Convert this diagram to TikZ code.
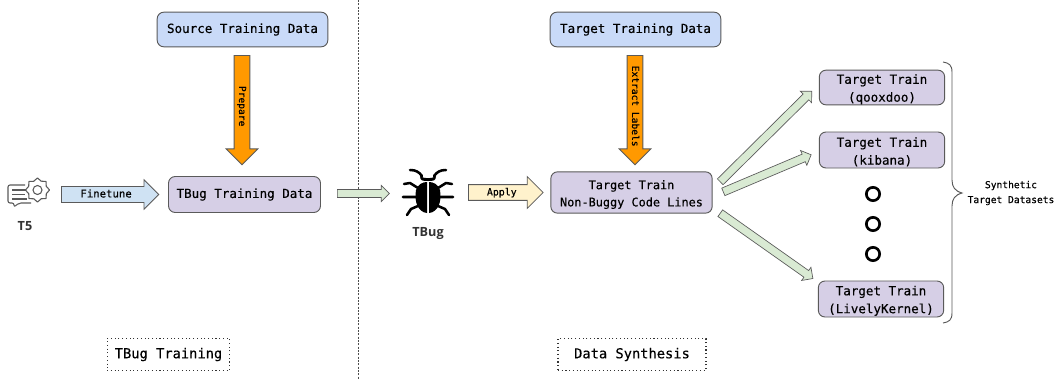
\documentclass[tikz,border=0pt]{standalone}
\usepackage{fontspec}
\setmainfont{DejaVu Sans Mono}[BoldFont={DejaVu Sans Mono},BoldFeatures={FakeBold=0.35}]
\newfontfamily\labfont{Open Sans}
\usetikzlibrary{shapes.arrows,calc}
\definecolor{lineg}{HTML}{5A5A5A}
\definecolor{purp}{HTML}{D6CFE6}
\definecolor{blu}{HTML}{C9DAF8}
\definecolor{org}{HTML}{FF9900}
\definecolor{grn}{HTML}{D9EAD3}
\definecolor{yel}{HTML}{FFF2CC}
\definecolor{lblu}{HTML}{CFE2F3}
\newcommand{\fs}[1]{\fontsize{#1}{#1}\selectfont}
\newcommand{\topst}{\rule{0pt}{9.8pt}}
\tikzset{
 x=0.75pt,y=-0.75pt,
 box/.style={draw=lineg,line width=0.7pt,rounded corners=5pt,inner sep=0pt,align=center,font=\fs{9.4}\bfseries,text=black},
 bluebox/.style={box,fill=blu},
 purpbox/.style={box,fill=purp},
 blockarrow/.style={single arrow,draw=lineg,line width=0.6pt,inner xsep=0pt,inner ysep=0pt,text=black,anchor=tail,single arrow tip angle=90,text height=7.8pt,text depth=3.4pt,font=\fs{7.4}\bfseries},
 orangearrow/.style={blockarrow,fill=org,minimum height=82pt,rotate=-90,single arrow head extend=6pt,minimum width=23.5pt},
 thinarrow/.style={blockarrow,fill=grn,line width=0.5pt,text height=5.6pt,text depth=0pt,single arrow head extend=3pt},
 tagbox/.style={draw=black!80,dotted,line width=0.8pt,inner sep=0pt,font=\fs{10.3}\bfseries,text=black},
 iconlabel/.style={font=\labfont\fs{9.5}\bfseries,text=black!80},
}
\begin{document}
\begin{tikzpicture}
\useasboundingbox (0,0) rectangle (1064,379);
\fill[white] (0,0) rectangle (1064,379);
% divider
\draw[black!70,line width=0.5pt,dash pattern=on 1.5pt off 1pt] (358,0) -- (358,379);
% boxes
\node[bluebox,minimum width=128pt,minimum height=26pt] (src) at (242.5,29.5) {Source Training Data};
\node[bluebox,minimum width=128pt,minimum height=26pt] (tgt) at (635.5,29.5) {Target Training Data};
\node[purpbox,minimum width=114pt,minimum height=27pt] (tbd) at (244.5,194.5) {TBug Training Data};
\node[purpbox,minimum width=121pt,minimum height=31pt,font=\fs{8.9}\bfseries] (ntb) at (631.5,192.5) {\topst Target Train\\[4pt]Non-Buggy Code Lines};
\node[purpbox,minimum width=94pt,minimum height=26pt] (qx) at (882,87.5) {\topst Target Train\\[4pt](qooxdoo)};
\node[purpbox,minimum width=94pt,minimum height=27pt] (kb) at (882,150) {\topst Target Train\\[4pt](kibana)};
\node[purpbox,minimum width=94pt,minimum height=27pt] (lk) at (881,299) {\topst Target Train\\[4pt](LivelyKernel)};
% tags
\node[tagbox,minimum width=92pt,minimum height=24pt] (tagA) at (168.5,354.5) {TBug Training};
\node[tagbox,minimum width=111pt,minimum height=24pt] (tagB) at (632,354.5) {Data Synthesis};
% block arrows
\node[orangearrow,font=\fs{7.2}\bfseries] (prep) at (242,55) {Prepare};
\node[orangearrow,font=\fs{7.2}\bfseries] (extr) at (635,55) {Extract Labels};
\node[blockarrow,fill=lblu,minimum height=73pt,minimum width=22pt,single arrow head extend=5pt,font=\fs{8}\bfseries] (fine) at (61,194.5) {Finetune};
\node[blockarrow,fill=yel,minimum height=56pt,minimum width=23pt,single arrow head extend=6pt] (appl) at (468,192.5) {Apply};
\node[thinarrow,minimum height=39pt] (g0) at (337,193.5) {};
\node[thinarrow,rotate=44.7,minimum height=96.5pt] (g1) at (720,182) {};
\node[thinarrow,rotate=22.9,minimum height=71.5pt] (g2) at (723,192) {};
\node[thinarrow,rotate=-35.2,minimum height=85pt] (g3) at (720,213) {};
% dots
\foreach \n/\yy in {d1/194,d2/224,d3/254}
  \node[circle,draw=black,line width=2pt,minimum size=10pt,inner sep=0pt] (\n) at (873,\yy) {};
% brace
\draw[lineg,line width=0.7pt] (943,62) .. controls (949,63) and (952,65) .. (952,72) -- (952,180) .. controls (952,187) and (955,191) .. (962,193) .. controls (955,195) and (952,199) .. (952,206) -- (952,313) .. controls (952,320) and (949,322) .. (943,323);
\node[align=center,font=\fs{7.2}\bfseries,text=black] (synth) at (1011,193) {Synthetic\\[4pt]Target Datasets};
% T5 icon
\begin{scope}[lineg,line width=0.8pt]
\draw[rounded corners=1.5pt] (25,185) -- (8,185) -- (8,203) -- (14,203) -- (14,207) -- (19,203) -- (31,203);
\draw (12,190) -- (26,190) (12,194.5) -- (25,194.5) (12,199) -- (27,199);
\path (37.5,190) coordinate (gc);
\draw (gc) circle (4.5);
\draw[line join=round] plot[smooth cycle,tension=0.3] coordinates {
 ($(gc)+(0:12)$) ($(gc)+(22:9.5)$) ($(gc)+(45:12)$) ($(gc)+(67:9.5)$) ($(gc)+(90:12)$) ($(gc)+(112:9.5)$) ($(gc)+(135:12)$) ($(gc)+(157:9.5)$) ($(gc)+(180:12)$) ($(gc)+(202:9.5)$) ($(gc)+(225:12)$) ($(gc)+(247:9.5)$) ($(gc)+(270:12)$) ($(gc)+(292:9.5)$) ($(gc)+(315:12)$) ($(gc)+(337:9.5)$)};
\end{scope}
\node[iconlabel] (t5) at (25,226) {T5};
% bug
\begin{scope}[black]
\fill (420,176) .. controls (424,179) and (432,179) .. (436,176) .. controls (436,181) and (433,181) .. (428,181) .. controls (423,181) and (420,181) .. (420,176) -- cycle;
\fill (416,190) .. controls (418,184) and (423,182) .. (427,182) -- (427,213) .. controls (418,212) and (414,202) .. (416,190) -- cycle;
\fill (440,190) .. controls (438,184) and (433,182) .. (429,182) -- (429,213) .. controls (438,212) and (442,202) .. (440,190) -- cycle;
\draw[line width=1.9pt,line cap=round,line join=round]
 (422,176) .. controls (419,172) and (416,170) .. (410,170)
 (434,176) .. controls (437,172) and (440,170) .. (446,170)
 (418,188) -- (410,183) -- (404,184)
 (438,188) -- (446,183) -- (452,184)
 (416,197) -- (403,197)
 (440,197) -- (453,197)
 (418,206) -- (411,209) -- (407,215)
 (438,206) -- (445,209) -- (449,215);
\end{scope}
\node[iconlabel] (tb) at (428,233) {TBug};
\end{tikzpicture}
\end{document}
